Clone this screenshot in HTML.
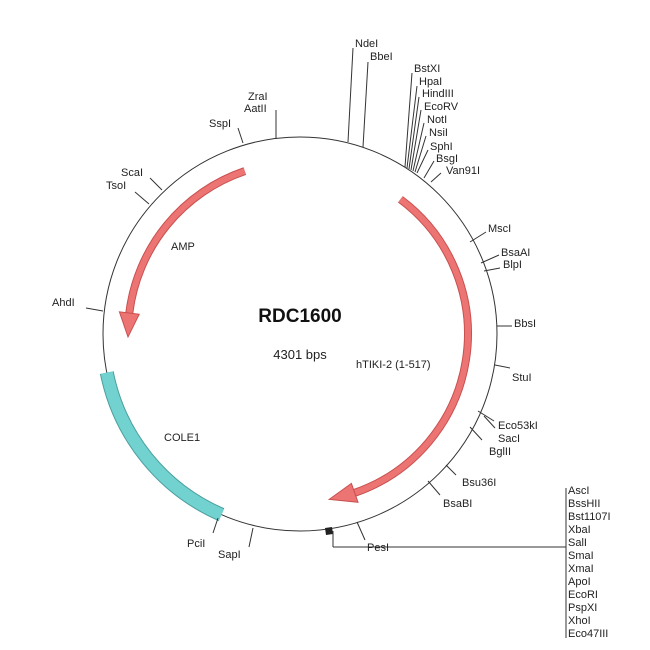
<!DOCTYPE html>
<html><head><meta charset="utf-8"><style>
html,body{margin:0;padding:0;background:#fff;}
svg{display:block;}
text{font-family:"Liberation Sans",Arial,sans-serif;font-size:11px;fill:#222;}
</style></head><body>
<svg width="650" height="650" viewBox="0 0 650 650" xmlns="http://www.w3.org/2000/svg">
<circle cx="300" cy="334" r="197" fill="none" stroke="#333" stroke-width="1"/>
<!-- COLE1 -->
<path d="M106.8,372.6 A197,197 0 0 0 221.5,514.7" fill="none" stroke="#4a9e9e" stroke-width="14"/>
<path d="M106.8,372.6 A197,197 0 0 0 221.5,514.7" fill="none" stroke="#72d2d0" stroke-width="12"/>
<!-- AMP -->
<path d="M244.8,171.1 A172,172 0 0 0 129.3,313" fill="none" stroke="#c85050" stroke-width="8"/>
<path d="M244.8,171.1 A172,172 0 0 0 129.3,313" fill="none" stroke="#ec7472" stroke-width="6"/>
<polygon points="139.2,314.3 119.4,311.8 128,337" fill="#ec7472" stroke="#c85050" stroke-width="1"/>
<!-- hTIKI -->
<path d="M400.4,199.3 A168,168 0 0 1 354.7,492.8" fill="none" stroke="#c85050" stroke-width="8"/>
<path d="M400.4,199.3 A168,168 0 0 1 354.7,492.8" fill="none" stroke="#ec7472" stroke-width="6"/>
<polygon points="351.4,483.4 358,502.3 329.2,499.4" fill="#ec7472" stroke="#c85050" stroke-width="1"/>
<!-- marker -->
<polygon points="325,528 332,527 333,534 326,535" fill="#222"/>
<g stroke="#333" stroke-width="1" fill="none">
<line x1="348" y1="142" x2="353" y2="48"/>
<line x1="363" y1="147" x2="368" y2="62"/>
<line x1="405" y1="167" x2="412" y2="73"/>
<line x1="407" y1="168" x2="417" y2="86"/>
<line x1="409" y1="169" x2="419" y2="97"/>
<line x1="411" y1="170" x2="421" y2="110"/>
<line x1="413" y1="171" x2="424" y2="123"/>
<line x1="415" y1="172" x2="426" y2="136"/>
<line x1="417" y1="173" x2="428" y2="150"/>
<line x1="424" y1="178" x2="434" y2="161"/>
<line x1="431" y1="182" x2="441" y2="173"/>
<line x1="470" y1="242" x2="486" y2="232"/>
<line x1="481" y1="263" x2="499" y2="255"/>
<line x1="484" y1="271" x2="500" y2="268"/>
<line x1="497" y1="326" x2="512" y2="326"/>
<line x1="495" y1="365" x2="510" y2="368"/>
<line x1="478" y1="411" x2="494" y2="421"/>
<line x1="484" y1="416" x2="495" y2="428"/>
<line x1="470" y1="427" x2="482" y2="440"/>
<line x1="446" y1="465" x2="456" y2="475"/>
<line x1="428" y1="481" x2="440" y2="495"/>
<line x1="357" y1="522" x2="365" y2="540"/>
<line x1="333" y1="531" x2="333" y2="547"/>
<line x1="333" y1="547" x2="566" y2="547"/>
<line x1="566" y1="488" x2="566" y2="638"/>
<line x1="253" y1="528" x2="249" y2="547"/>
<line x1="218" y1="518" x2="213" y2="533"/>
<line x1="103" y1="311" x2="86" y2="308"/>
<line x1="149" y1="204" x2="135" y2="192"/>
<line x1="162" y1="190" x2="150" y2="178"/>
<line x1="243" y1="143" x2="238" y2="128"/>
<line x1="276" y1="139" x2="276" y2="110"/>
</g>
<g>
<text x="355" y="47">NdeI</text>
<text x="370" y="60">BbeI</text>
<text x="414" y="72">BstXI</text>
<text x="419" y="85">HpaI</text>
<text x="422" y="97">HindIII</text>
<text x="424" y="110">EcoRV</text>
<text x="427" y="123">NotI</text>
<text x="429" y="136">NsiI</text>
<text x="430" y="150">SphI</text>
<text x="436" y="162">BsgI</text>
<text x="446" y="174">Van91I</text>
<text x="488" y="232">MscI</text>
<text x="501" y="256">BsaAI</text>
<text x="503" y="268">BlpI</text>
<text x="514" y="327">BbsI</text>
<text x="512" y="381">StuI</text>
<text x="498" y="429">Eco53kI</text>
<text x="498" y="442">SacI</text>
<text x="489" y="455">BglII</text>
<text x="462" y="486">Bsu36I</text>
<text x="443" y="507">BsaBI</text>
<text x="367" y="551">PesI</text>
<text x="568" y="494">AscI</text>
<text x="568" y="507">BssHII</text>
<text x="568" y="520">Bst1107I</text>
<text x="568" y="533">XbaI</text>
<text x="568" y="546">SalI</text>
<text x="568" y="559">SmaI</text>
<text x="568" y="572">XmaI</text>
<text x="568" y="585">ApoI</text>
<text x="568" y="598">EcoRI</text>
<text x="568" y="611">PspXI</text>
<text x="568" y="624">XhoI</text>
<text x="568" y="637">Eco47III</text>
<text x="218" y="558">SapI</text>
<text x="187" y="547">PciI</text>
<text x="52" y="306">AhdI</text>
<text x="106" y="189">TsoI</text>
<text x="121" y="176">ScaI</text>
<text x="209" y="127">SspI</text>
<text x="248" y="100">ZraI</text>
<text x="244" y="112">AatII</text>
<text x="171" y="250">AMP</text>
<text x="164" y="441">COLE1</text>
<text x="356" y="368">hTIKI-2 (1-517)</text>
<text x="300" y="322" text-anchor="middle" style="font-size:19px;font-weight:bold;fill:#111">RDC1600</text>
<text x="300" y="359" text-anchor="middle" style="font-size:13px">4301 bps</text>
</g>
</svg>
</body></html>
